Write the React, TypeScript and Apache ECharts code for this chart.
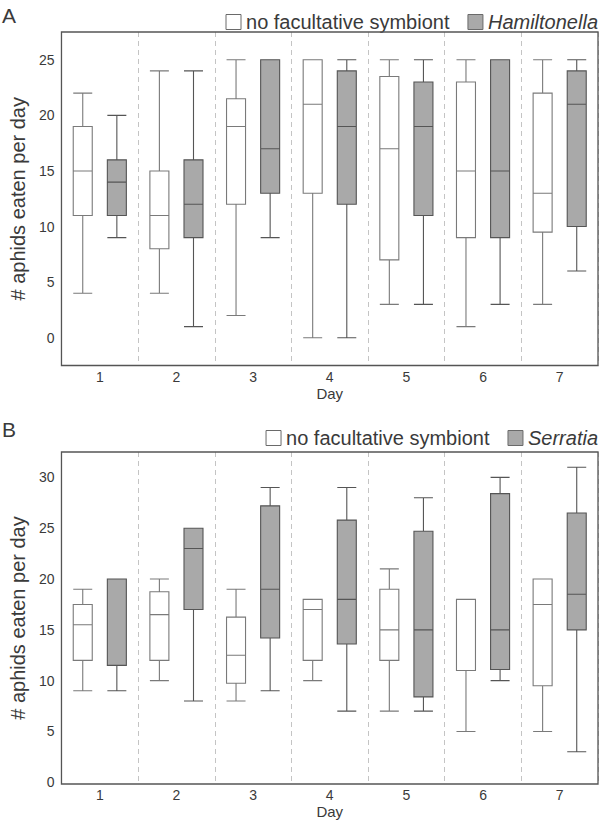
import React, { useEffect, useRef } from "react";
import * as echarts from "echarts";

const days = ["1", "2", "3", "4", "5", "6", "7"];

// [min, Q1, median, Q3, max]
const aNone = [
  [4, 11, 15, 19, 22],
  [4, 8, 11, 15, 24],
  [2, 12, 19, 21.5, 25],
  [0, 13, 21, 25, 25],
  [3, 7, 17, 23.5, 25],
  [1, 9, 15, 23, 25],
  [3, 9.5, 13, 22, 25],
];
const aHam = [
  [9, 11, 14, 16, 20],
  [1, 9, 12, 16, 24],
  [9, 13, 17, 25, 25],
  [0, 12, 19, 24, 25],
  [3, 11, 19, 23, 25],
  [3, 9, 15, 25, 25],
  [6, 10, 21, 24, 25],
];
const bNone = [
  [9, 12, 15.5, 17.5, 19],
  [10, 12, 16.5, 18.75, 20],
  [8, 9.75, 12.5, 16.25, 19],
  [10, 12, 17, 18, 18],
  [7, 12, 15, 19, 21],
  [5, 11, 18, 18, 18],
  [5, 9.5, 17.5, 20, 20],
];
const bSer = [
  [9, 11.5, 20, 20, 20],
  [8, 17, 23, 25, 25],
  [9, 14.2, 19, 27.2, 29],
  [7, 13.6, 18, 25.8, 29],
  [7, 8.4, 15, 24.7, 28],
  [10, 11.1, 15, 28.4, 30],
  [3, 15, 18.5, 26.5, 31],
];

const yTicksA = [0, 5, 10, 15, 20, 25];
const yTicksB = [0, 5, 10, 15, 20, 25, 30];

const FONT = "Liberation Sans, Arial, Helvetica, sans-serif";
const TEXT = "#3a3a3a";

export default function App() {
  const ref = useRef<HTMLDivElement>(null);
  useEffect(() => {
    if (!ref.current) return;
    const chart = echarts.init(ref.current, undefined, { renderer: "svg" });

    const xAxisBase = (gridIndex: number) => ({
      type: "category",
      gridIndex,
      data: days,
      name: "Day",
      nameLocation: "middle",
      nameGap: 20,
      nameTextStyle: { fontSize: 15, color: TEXT, fontFamily: FONT },
      axisLine: { show: false },
      axisTick: { show: false },
      axisLabel: { fontSize: 14, color: TEXT, fontFamily: FONT, margin: 4 },
      splitLine: {
        show: true,
        interval: (index: number) => index !== 0,
        lineStyle: { type: [5, 4], color: "#c4c4c4", width: 1 },
      },
    });

    const yAxisBase = (gridIndex: number, min: number, max: number, ticks: number[]) => ({
      type: "value",
      gridIndex,
      min,
      max,
      name: "# aphids eaten per day",
      nameLocation: "middle",
      nameRotate: 90,
      nameGap: 25,
      nameTextStyle: { fontSize: 20, color: TEXT, fontFamily: FONT },
      axisLine: { show: false },
      axisTick: { show: false },
      splitLine: { show: false },
      axisLabel: {
        fontSize: 14,
        color: TEXT,
        fontFamily: FONT,
        margin: 7,
        customValues: ticks,
      },
    });

    const whiteStyle = { color: "#ffffff", borderColor: "#7a7a7a", borderWidth: 1.1 };
    const grayStyle = { color: "#a9a9a9", borderColor: "#555555", borderWidth: 1.1 };

    const legendBase = (top: number, second: string) => ({
      right: 2,
      top,
      icon: "rect",
      itemWidth: 15,
      itemHeight: 15,
      itemGap: 18,
      padding: 0,
      selectedMode: false,
      data: [
        {
          name: "no facultative symbiont",
          itemStyle: { color: "#ffffff", borderColor: "#6a6a6a", borderWidth: 1 },
        },
        {
          name: second,
          itemStyle: { color: "#a9a9a9", borderColor: "#6a6a6a", borderWidth: 1 },
        },
      ],
      formatter: (name: string) =>
        name === "no facultative symbiont" ? name : "{i|" + name + "}",
      textStyle: {
        fontSize: 20,
        color: TEXT,
        fontFamily: FONT,
        rich: { i: { fontStyle: "italic", fontSize: 20, color: TEXT, fontFamily: FONT } },
      },
    });

    const gridStyle = {
      show: true,
      z: 10,
      borderColor: "#555555",
      borderWidth: 1.3,
      backgroundColor: "transparent",
    };

    chart.setOption({
      animation: false,
      backgroundColor: "#ffffff",
      textStyle: { fontFamily: FONT },
      grid: [
        { left: 49, right: 2, top: 32, height: 333.5, ...gridStyle },
        { left: 48.5, right: 2, top: 452, height: 332, ...gridStyle },
      ],
      xAxis: [xAxisBase(0), xAxisBase(1)],
      yAxis: [yAxisBase(0, -2.5, 27.5, yTicksA), yAxisBase(1, -0.17, 32.5, yTicksB)],
      legend: [legendBase(12, "Hamiltonella"), legendBase(428, "Serratia")],
      graphic: [
        {
          type: "text",
          left: 2,
          top: 5,
          style: { text: "A", fontSize: 21, fill: TEXT, fontFamily: FONT },
        },
        {
          type: "text",
          left: 2,
          top: 419,
          style: { text: "B", fontSize: 21, fill: TEXT, fontFamily: FONT },
        },
      ],
      series: [
        {
          name: "no facultative symbiont",
          type: "boxplot",
          xAxisIndex: 0,
          yAxisIndex: 0,
          boxWidth: [19, 19],
          itemStyle: whiteStyle,
          data: aNone,
        },
        {
          name: "Hamiltonella",
          type: "boxplot",
          xAxisIndex: 0,
          yAxisIndex: 0,
          boxWidth: [19, 19],
          itemStyle: grayStyle,
          data: aHam,
        },
        {
          name: "no facultative symbiont",
          type: "boxplot",
          xAxisIndex: 1,
          yAxisIndex: 1,
          boxWidth: [19, 19],
          itemStyle: whiteStyle,
          data: bNone,
        },
        {
          name: "Serratia",
          type: "boxplot",
          xAxisIndex: 1,
          yAxisIndex: 1,
          boxWidth: [19, 19],
          itemStyle: grayStyle,
          data: bSer,
        },
      ],
    });

    return () => chart.dispose();
  }, []);

  return (
    <div
      ref={ref}
      style={{ position: "fixed", left: 0, top: 0, width: 600, height: 821, background: "#fff" }}
    />
  );
}
